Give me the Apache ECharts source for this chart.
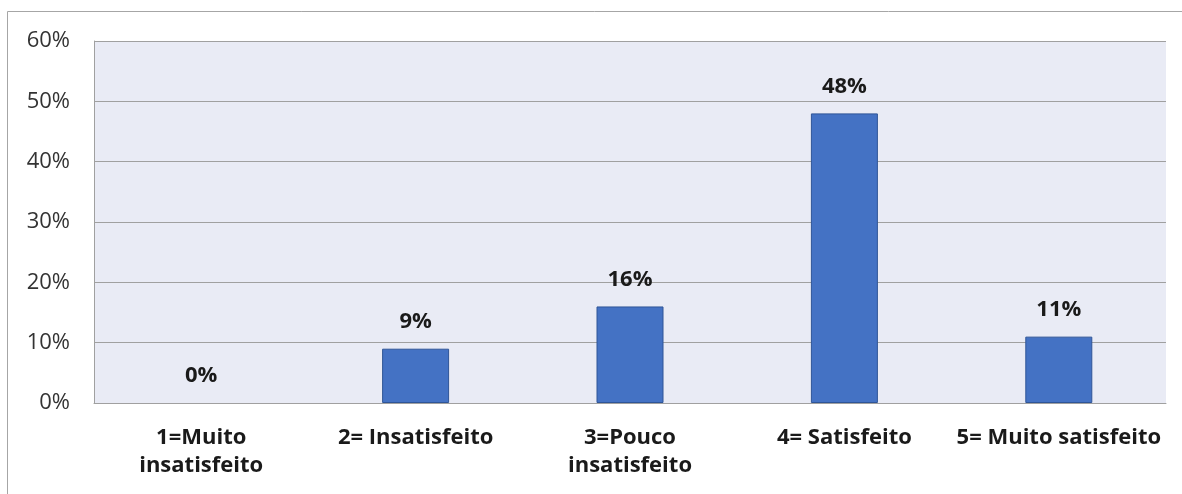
<!DOCTYPE html>
<html>
<head>
<meta charset="utf-8">
<script src="https://cdn.jsdelivr.net/npm/echarts@6/dist/echarts.min.js"></script>
<style>
  html, body { margin: 0; padding: 0; background: #fff; }
  #chart { width: 1182px; height: 494px; }
</style>
</head>
<body>
<div id="chart"></div>
<script>
// satisfaction levels
const categories = [
  "1=Muito\ninsatisfeito",
  "2= Insatisfeito",
  "3=Pouco\ninsatisfeito",
  "4= Satisfeito",
  "5= Muito satisfeito"
];
const percentValues = [0, 9, 16, 48, 11];
const yTicks = [0, 10, 20, 30, 40, 50, 60];

const chart = echarts.init(document.getElementById("chart"));

chart.setOption({
  animation: false,
  backgroundColor: "#fff",
  textStyle: { fontFamily: "'Open Sans', 'Noto Sans', sans-serif" },
  graphic: [
    {
      type: "polyline",
      shape: { points: [[7.5, 494], [7.5, 11.5], [1182, 11.5]] },
      style: { stroke: "#a6a6a6", lineWidth: 1, fill: null },
      silent: true
    }
  ],
  grid: {
    left: 94,
    right: 16,
    top: 41,
    bottom: 91,
    show: true,
    backgroundColor: "#E9EBF5",
    borderWidth: 0
  },
  xAxis: {
    type: "category",
    data: categories,
    axisTick: { show: false },
    axisLine: { show: true, lineStyle: { color: "#a0a0a0", width: 1 } },
    axisLabel: {
      interval: 0,
      margin: 21,
      color: "#1a1a1a",
      fontSize: 22,
      fontWeight: "bold",
      lineHeight: 28
    }
  },
  yAxis: {
    type: "value",
    min: yTicks[0],
    max: yTicks[yTicks.length - 1],
    interval: 10,
    axisLine: { show: true, lineStyle: { color: "#a0a0a0", width: 1 } },
    axisTick: { show: false },
    splitLine: { lineStyle: { color: "#a0a0a0", width: 1 } },
    axisLabel: {
      margin: 24,
      color: "#333",
      fontSize: 22,
      formatter: function (v) { return v + "%"; }
    }
  },
  series: [
    {
      type: "bar",
      data: percentValues.map(function (v) {
        return v === 0 ? { value: v, itemStyle: { borderWidth: 0 } } : v;
      }),
      barWidth: 67,
      itemStyle: {
        color: "#4472C4",
        borderColor: "#2F5597",
        borderWidth: 1
      },
      label: {
        show: true,
        position: "top",
        distance: 16,
        color: "#1a1a1a",
        fontSize: 22,
        fontWeight: "bold",
        formatter: function (p) { return p.value + "%"; }
      }
    }
  ]
});
</script>
</body>
</html>
